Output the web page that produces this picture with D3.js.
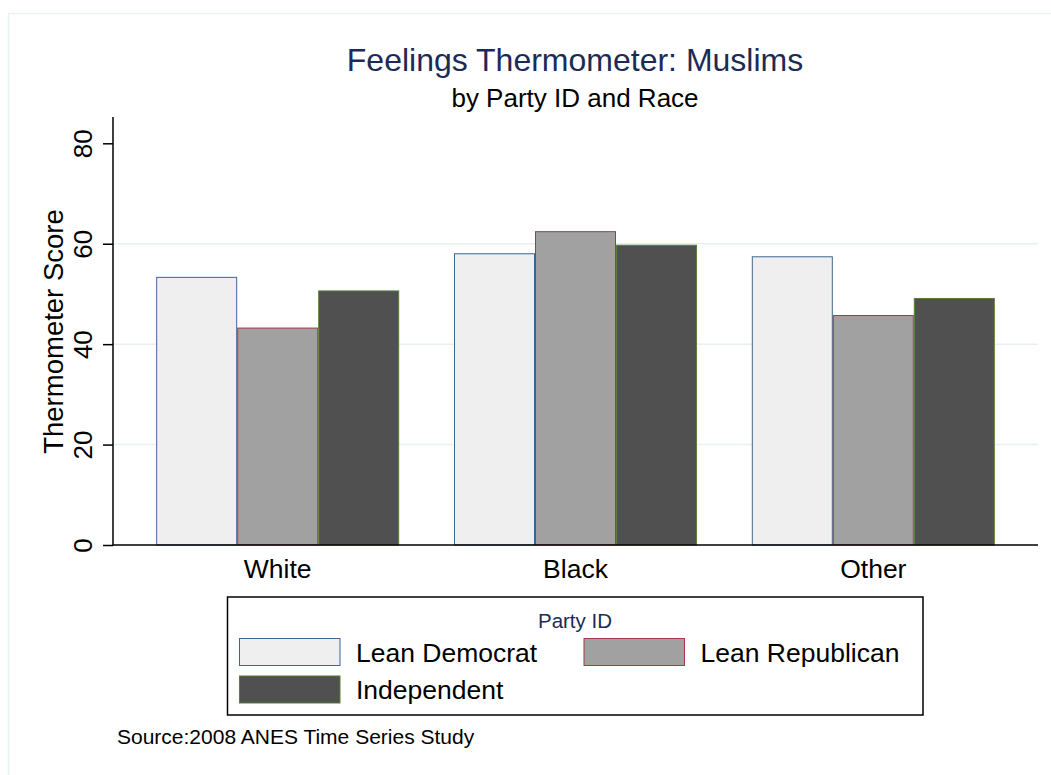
<!DOCTYPE html>
<html>
<head>
<meta charset="utf-8">
<script src="https://cdn.jsdelivr.net/npm/d3@7"></script>
<style>
  html, body { margin: 0; padding: 0; background: #fff; }
  svg { display: block; font-family: "Liberation Sans", Arial, Helvetica, sans-serif; }
</style>
</head>
<body>
<svg id="chart" width="1051" height="775"></svg>
<script>
const categories = ["White", "Black", "Other"];
const seriesNames = ["Lean Democrat", "Lean Republican", "Independent"];
const leanDemocrat = [53.3, 58.0, 57.4];
const leanRepublican = [43.2, 62.4, 45.7];
const independent = [50.6, 59.7, 49.1];
const yTicks = [0, 20, 40, 60, 80];

const fills = ["#efefef", "#a1a1a1", "#505050"];
const strokes = ["#3e6690", "#a33a45", "#5a7d3a"];

const seriesValues = [leanDemocrat, leanRepublican, independent];
const rows = categories.map((c, i) => ({
  category: c,
  values: seriesNames.map((s, j) => ({ series: s, idx: j, value: seriesValues[j][i] }))
}));

const svg = d3.select("#chart");

// outer graph-region frame
svg.append("rect").attr("x", 8.5).attr("y", 13.5).attr("width", 1100).attr("height", 900)
  .attr("fill", "none").attr("stroke", "#eaf1f2").attr("stroke-width", 1.5);

const plot = { left: 113, right: 1038, top: 117, bottom: 545 };
const y = d3.scaleLinear().domain([0, 80]).range([545, 143.3]);
const x0 = d3.scaleBand().domain(categories).range([plot.left, plot.right])
  .paddingInner(0.184).paddingOuter(0.145);
const x1 = d3.scaleBand().domain(seriesNames).range([0, x0.bandwidth()]).padding(0);

// gridlines
svg.append("g").selectAll("line").data(yTicks.filter(t => t > 0 && t < 80)).join("line")
  .attr("x1", plot.left).attr("x2", plot.right)
  .attr("y1", d => y(d)).attr("y2", d => y(d))
  .attr("stroke", "#e8f0f1").attr("stroke-width", 1.5);

// bars
const groups = svg.append("g").selectAll("g").data(rows).join("g")
  .attr("transform", d => `translate(${x0(d.category)},0)`);
groups.selectAll("rect").data(d => d.values).join("rect")
  .attr("x", d => x1(d.series) + 0.5)
  .attr("width", x1.bandwidth() - 1)
  .attr("y", d => y(d.value))
  .attr("height", d => y(0) - y(d.value))
  .attr("fill", d => fills[d.idx])
  .attr("stroke", d => strokes[d.idx])
  .attr("stroke-width", 1);

// y axis
const yAxis = d3.axisLeft(y).tickValues(yTicks).tickSize(10).tickSizeOuter(0).tickFormat(d3.format("d"));
const gy = svg.append("g").attr("transform", `translate(${plot.left},0)`).call(yAxis);
gy.select(".domain").remove();
gy.append("line").attr("x1", 0).attr("x2", 0).attr("y1", plot.top).attr("y2", plot.bottom + 0.5)
  .attr("stroke", "#000").attr("stroke-width", 1.5);
gy.selectAll(".tick line").attr("stroke", "#000").attr("stroke-width", 1.5);
gy.selectAll(".tick text")
  .attr("font-size", 26).attr("fill", "#000")
  .attr("font-family", "Liberation Sans, Arial, sans-serif")
  .attr("text-anchor", "middle")
  .attr("x", -21).attr("y", 0).attr("dy", 0)
  .attr("transform", "rotate(-90, -21, 0)");

// x axis
const gx = svg.append("g").attr("transform", `translate(0,${plot.bottom})`)
  .call(d3.axisBottom(x0).tickSize(0).tickSizeOuter(0));
gx.select(".domain").attr("stroke", "#000").attr("stroke-width", 1.5)
  .attr("d", `M${plot.left},0H${plot.right}`);
gx.selectAll(".tick text").attr("font-size", 26.5).attr("fill", "#000")
  .attr("font-family", "Liberation Sans, Arial, sans-serif").attr("dy", 0).attr("y", 33);

// axis title
svg.append("text").attr("transform", "translate(63,331.5) rotate(-90)")
  .attr("text-anchor", "middle").attr("font-size", 27.5).attr("fill", "#000")
  .text("Thermometer Score");

// titles
svg.append("text").attr("x", 575).attr("y", 71).attr("text-anchor", "middle")
  .attr("font-size", 32).attr("fill", "#1c2b55").text("Feelings Thermometer: Muslims");
svg.append("text").attr("x", 575).attr("y", 107).attr("text-anchor", "middle")
  .attr("font-size", 26).attr("fill", "#000").text("by Party ID and Race");

// legend
const lg = svg.append("g");
lg.append("rect").attr("x", 227.5).attr("y", 597).attr("width", 695.5).attr("height", 118)
  .attr("fill", "#fff").attr("stroke", "#000").attr("stroke-width", 1.5);
lg.append("text").attr("x", 575).attr("y", 628).attr("text-anchor", "middle")
  .attr("font-size", 20.5).attr("fill", "#1c2b55").text("Party ID");
const legPos = [{ x: 239.5, y: 638.5 }, { x: 584, y: 638.5 }, { x: 239.5, y: 676 }];
const items = lg.selectAll("g.item").data(seriesNames).join("g").attr("class", "item")
  .attr("transform", (d, i) => `translate(${legPos[i].x},${legPos[i].y})`);
items.append("rect").attr("x", 0).attr("y", 0).attr("width", 100.5).attr("height", 27)
  .attr("fill", (d, i) => fills[i]).attr("stroke", (d, i) => strokes[i]).attr("stroke-width", 1);
items.append("text").attr("x", 116.5).attr("y", 23).attr("font-size", 26.5).attr("fill", "#000")
  .text(d => d);

// note
svg.append("text").attr("x", 117).attr("y", 744).attr("font-size", 21).attr("fill", "#000")
  .text("Source:2008 ANES Time Series Study");
</script>
</body>
</html>
